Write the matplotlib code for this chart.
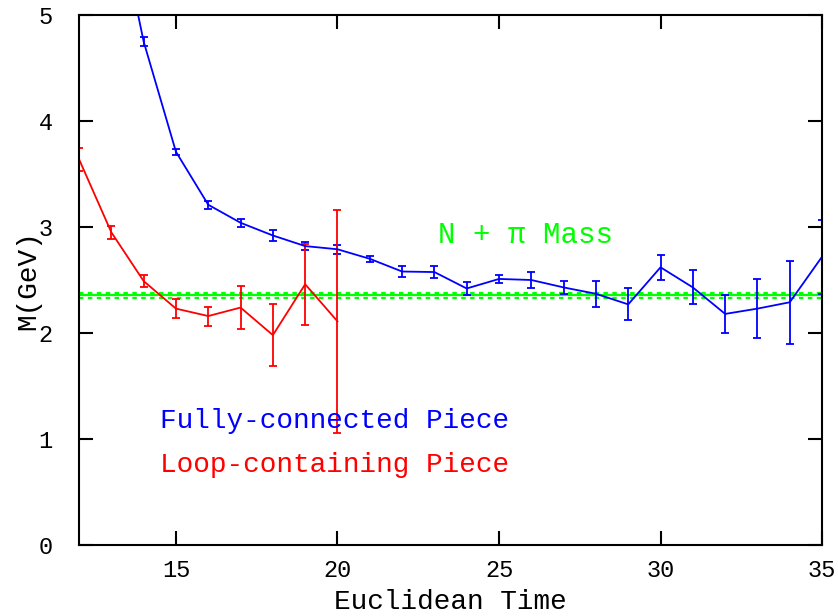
import matplotlib.pyplot as plt
import numpy as np

# Données
t_full = [13, 14, 15, 16, 17, 18, 19, 20, 21, 22, 23, 24, 25, 26, 27, 28, 29, 30, 31, 32, 33, 34, 35]
m_full = [6.22, 4.75, 3.71, 3.21, 3.04, 2.92, 2.82, 2.79, 2.70, 2.58, 2.575, 2.42, 2.51, 2.50,
          2.43, 2.37, 2.27, 2.62, 2.43, 2.18, 2.23, 2.29, 2.72]
e_full = [0.05, 0.04, 0.03, 0.04, 0.04, 0.05, 0.04, 0.04, 0.03, 0.05, 0.06, 0.06, 0.04, 0.08,
          0.06, 0.12, 0.15, 0.12, 0.16, 0.18, 0.28, 0.39, 0.35]

t_loop = [12, 13, 14, 15, 16, 17, 18, 19, 20]
m_loop = [3.64, 2.95, 2.49, 2.23, 2.16, 2.24, 1.98, 2.46, 2.11]
e_loop = [0.11, 0.06, 0.06, 0.09, 0.09, 0.20, 0.29, 0.38, 1.05]

npi_mass = 2.355
npi_err = 0.025

font = ['Liberation Mono', 'DejaVu Sans Mono']

fig = plt.figure(figsize=(8.38, 6.16), dpi=100)
ax = fig.add_axes([0.0943, 0.1153, 0.8867, 0.8603])

# Masse N + pi (bande)
ax.axhline(npi_mass, color='#00ff00', lw=1.6)
ax.axhline(npi_mass + npi_err, color='#00ff00', lw=1.6, ls=(0, (2, 2)))
ax.axhline(npi_mass - npi_err, color='#00ff00', lw=1.6, ls=(0, (2, 2)))

ax.errorbar(t_full, m_full, yerr=e_full, color='blue', lw=1.3, elinewidth=1.3,
            capsize=3, capthick=1.3)
ax.errorbar(t_loop, m_loop, yerr=e_loop, color='red', lw=1.3, elinewidth=1.3,
            capsize=3, capthick=1.3)

ax.set_xlim(12, 35)
ax.set_ylim(0, 5)
ax.set_xticks([15, 20, 25, 30, 35])
ax.set_yticks([0, 1, 2, 3, 4, 5])

ax.tick_params(direction='in', length=10, width=1.5, top=True, right=True,
               labelsize=17)
ax.tick_params(axis='x', pad=10)
ax.tick_params(axis='y', pad=19)
for lab in ax.get_xticklabels() + ax.get_yticklabels():
    lab.set_family(font)
for sp in ax.spines.values():
    sp.set_linewidth(1.5)

ax.set_xlabel('Euclidean Time', fontsize=20, family=font, labelpad=5)
ax.set_ylabel('M(GeV)', fontsize=20, family=font, labelpad=-2)

ax.text(23.11, 2.85, 'N + π Mass', color='#00ff00', fontsize=21, family=font)
ax.text(14.5, 1.10, 'Fully-connected Piece', color='blue', fontsize=20, family=font)
ax.text(14.5, 0.69, 'Loop-containing Piece', color='red', fontsize=20, family=font)

fig.savefig('out.png', dpi=100)
